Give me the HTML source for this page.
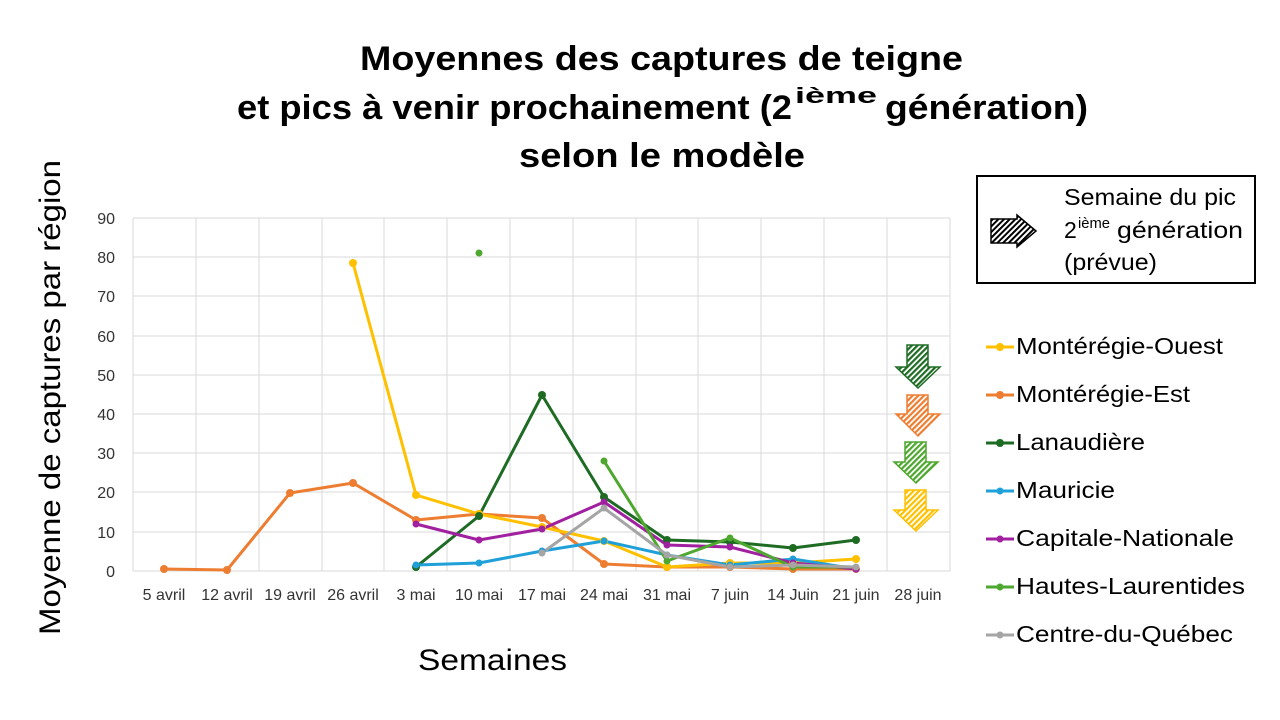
<!DOCTYPE html>
<html><head><meta charset="utf-8"><style>
html,body{margin:0;padding:0;background:#fff;}
svg{display:block;font-family:"Liberation Sans",sans-serif;}
</style></head><body>
<svg width="1280" height="720" viewBox="0 0 1280 720" xmlns="http://www.w3.org/2000/svg">
<defs>
<pattern id="hk" width="4" height="4" patternUnits="userSpaceOnUse" patternTransform="rotate(45)"><rect width="4" height="4" fill="#fff"/><rect width="2" height="4" fill="#000"/></pattern>
<pattern id="hdg" width="4" height="4" patternUnits="userSpaceOnUse" patternTransform="rotate(45)"><rect width="4" height="4" fill="#fff"/><rect width="2.2" height="4" fill="#1E6B24"/></pattern>
<pattern id="ho" width="4" height="4" patternUnits="userSpaceOnUse" patternTransform="rotate(45)"><rect width="4" height="4" fill="#fff"/><rect width="2.2" height="4" fill="#ED7D31"/></pattern>
<pattern id="hg" width="4" height="4" patternUnits="userSpaceOnUse" patternTransform="rotate(45)"><rect width="4" height="4" fill="#fff"/><rect width="2.2" height="4" fill="#4EA72E"/></pattern>
<pattern id="hy" width="4" height="4" patternUnits="userSpaceOnUse" patternTransform="rotate(45)"><rect width="4" height="4" fill="#fff"/><rect width="2.2" height="4" fill="#FFC000"/></pattern>
</defs>
<!-- title -->
<g font-weight="bold" font-size="34" fill="#000">
<text x="360" y="70" textLength="603" lengthAdjust="spacingAndGlyphs">Moyennes des captures de teigne</text>
<text x="237" y="119" textLength="555" lengthAdjust="spacingAndGlyphs">et pics à venir prochainement (2</text>
<text x="795" y="103" font-size="22" textLength="82" lengthAdjust="spacingAndGlyphs">ième</text>
<text x="885" y="119" textLength="203" lengthAdjust="spacingAndGlyphs">génération)</text>
<text x="519" y="167" textLength="286" lengthAdjust="spacingAndGlyphs">selon le modèle</text>
</g>
<!-- grid -->
<g stroke="#d9d9d9" stroke-width="1">
<line x1="133" y1="218" x2="950" y2="218"/><line x1="133" y1="257" x2="950" y2="257"/><line x1="133" y1="296" x2="950" y2="296"/><line x1="133" y1="336" x2="950" y2="336"/><line x1="133" y1="375" x2="950" y2="375"/><line x1="133" y1="414" x2="950" y2="414"/><line x1="133" y1="453" x2="950" y2="453"/><line x1="133" y1="492" x2="950" y2="492"/><line x1="133" y1="532" x2="950" y2="532"/><line x1="133" y1="571" x2="950" y2="571"/>
<line x1="133" y1="218" x2="133" y2="571"/><line x1="196" y1="218" x2="196" y2="571"/><line x1="259" y1="218" x2="259" y2="571"/><line x1="322" y1="218" x2="322" y2="571"/><line x1="384" y1="218" x2="384" y2="571"/><line x1="447" y1="218" x2="447" y2="571"/><line x1="510" y1="218" x2="510" y2="571"/><line x1="573" y1="218" x2="573" y2="571"/><line x1="636" y1="218" x2="636" y2="571"/><line x1="698" y1="218" x2="698" y2="571"/><line x1="761" y1="218" x2="761" y2="571"/><line x1="824" y1="218" x2="824" y2="571"/><line x1="887" y1="218" x2="887" y2="571"/><line x1="950" y1="218" x2="950" y2="571"/>
</g>
<g font-size="16" fill="#333" text-anchor="end">
<text x="115" y="224">90</text><text x="115" y="263">80</text><text x="115" y="302">70</text><text x="115" y="342">60</text><text x="115" y="381">50</text><text x="115" y="420">40</text><text x="115" y="459">30</text><text x="115" y="498">20</text><text x="115" y="538">10</text><text x="115" y="577">0</text>
</g>
<g font-size="16" fill="#333" text-anchor="middle">
<text x="164" y="600">5 avril</text><text x="227" y="600">12 avril</text><text x="290" y="600">19 avril</text><text x="353" y="600">26 avril</text><text x="416" y="600">3 mai</text><text x="479" y="600">10 mai</text><text x="542" y="600">17 mai</text><text x="604" y="600">24 mai</text><text x="667" y="600">31 mai</text><text x="730" y="600">7 juin</text><text x="793" y="600">14 Juin</text><text x="856" y="600">21 juin</text><text x="918" y="600">28 juin</text>
</g>
<text x="418" y="670" font-size="30" textLength="149" lengthAdjust="spacingAndGlyphs">Semaines</text>
<text transform="translate(60,635) rotate(-90)" font-size="30" textLength="475" lengthAdjust="spacingAndGlyphs">Moyenne de captures par région</text>
<!-- series -->
<g fill="none" stroke-width="3" stroke-linejoin="round">
<polyline stroke="#ED7D31" points="164,569 227,570 290,493 353,483 416,520 479,514 542,518 604,564 667,567 730,567 793,569 856,569"/>
<polyline stroke="#FFC000" points="353,263 416,495 479,514 542,527 604,541 667,567 730,563 793,563 856,559"/>
<polyline stroke="#1E6B24" points="416,567 479,516 542,395 604,497 667,540 730,542 793,548 856,540"/>
<polyline stroke="#1FA0D8" points="416,565 479,563 542,551 604,541 667,555 730,565 793,559 856,569"/>
<polyline stroke="#A020A0" points="416,524 479,540 542,529 604,502 667,545 730,547 793,563 856,569"/>
<polyline stroke="#4EA72E" points="604,461 667,561 730,538 793,567 856,567"/>
<polyline stroke="#A5A5A5" points="542,553 604,508 667,555 730,567 793,565 856,567"/>
</g>
<g fill="#ED7D31"><circle cx="164" cy="569" r="4"/><circle cx="227" cy="570" r="4"/><circle cx="290" cy="493" r="4"/><circle cx="353" cy="483" r="4"/><circle cx="416" cy="520" r="4"/><circle cx="479" cy="514" r="4"/><circle cx="542" cy="518" r="4"/><circle cx="604" cy="564" r="4"/><circle cx="667" cy="567" r="4"/><circle cx="730" cy="567" r="4"/><circle cx="793" cy="569" r="4"/><circle cx="856" cy="569" r="4"/></g>
<g fill="#FFC000"><circle cx="353" cy="263" r="4"/><circle cx="416" cy="495" r="4"/><circle cx="479" cy="514" r="4"/><circle cx="542" cy="527" r="4"/><circle cx="604" cy="541" r="4"/><circle cx="667" cy="567" r="4"/><circle cx="730" cy="563" r="4"/><circle cx="793" cy="563" r="4"/><circle cx="856" cy="559" r="4"/></g>
<g fill="#1E6B24"><circle cx="416" cy="567" r="4"/><circle cx="479" cy="516" r="4"/><circle cx="542" cy="395" r="4"/><circle cx="604" cy="497" r="4"/><circle cx="667" cy="540" r="4"/><circle cx="730" cy="542" r="4"/><circle cx="793" cy="548" r="4"/><circle cx="856" cy="540" r="4"/></g>
<g fill="#1FA0D8"><circle cx="416" cy="565" r="3.5"/><circle cx="479" cy="563" r="3.5"/><circle cx="542" cy="551" r="3.5"/><circle cx="604" cy="541" r="3.5"/><circle cx="667" cy="555" r="3.5"/><circle cx="730" cy="565" r="3.5"/><circle cx="793" cy="559" r="3.5"/><circle cx="856" cy="569" r="3.5"/></g>
<g fill="#A020A0"><circle cx="416" cy="524" r="3.5"/><circle cx="479" cy="540" r="3.5"/><circle cx="542" cy="529" r="3.5"/><circle cx="604" cy="502" r="3.5"/><circle cx="667" cy="545" r="3.5"/><circle cx="730" cy="547" r="3.5"/><circle cx="793" cy="563" r="3.5"/><circle cx="856" cy="569" r="3.5"/></g>
<g fill="#4EA72E"><circle cx="479" cy="253" r="3.5"/><circle cx="604" cy="461" r="3.5"/><circle cx="667" cy="561" r="3.5"/><circle cx="730" cy="538" r="3.5"/><circle cx="793" cy="567" r="3.5"/></g>
<g fill="#A5A5A5"><circle cx="542" cy="553" r="3.5"/><circle cx="604" cy="508" r="3.5"/><circle cx="667" cy="555" r="3.5"/><circle cx="730" cy="567" r="3.5"/><circle cx="793" cy="565" r="3.5"/><circle cx="856" cy="567" r="3.5"/></g>
<!-- down arrows -->
<path d="M907,345 H928 V367 H940 L918,388 L896,367 H907 Z" fill="url(#hdg)" stroke="#1E6B24" stroke-width="1.5"/>
<path d="M907,395 H928 V414 H940 L918,436 L896,414 H907 Z" fill="url(#ho)" stroke="#ED7D31" stroke-width="1.5"/>
<path d="M905,442 H926 V462 H938 L916,483 L894,462 H905 Z" fill="url(#hg)" stroke="#4EA72E" stroke-width="1.5"/>
<path d="M905,490 H926 V510 H938 L916,531 L894,510 H905 Z" fill="url(#hy)" stroke="#FFC000" stroke-width="1.5"/>
<!-- box legend -->
<rect x="977" y="176" width="278" height="107" fill="#fff" stroke="#000" stroke-width="2"/>
<path d="M991,219 H1017 V215 L1036,231 L1017,247 V243 H991 Z" fill="url(#hk)" stroke="#000" stroke-width="1.5"/>
<g font-size="23" fill="#000">
<text x="1064" y="205" textLength="172" lengthAdjust="spacingAndGlyphs">Semaine du pic</text>
<text x="1064" y="238">2</text>
<text x="1078" y="228" font-size="15" textLength="32" lengthAdjust="spacingAndGlyphs">ième</text>
<text x="1117" y="238" textLength="126" lengthAdjust="spacingAndGlyphs">génération</text>
<text x="1064" y="270" textLength="93" lengthAdjust="spacingAndGlyphs">(prévue)</text>
</g>
<!-- series legend -->
<g stroke-width="3">
<line x1="986" y1="347" x2="1014" y2="347" stroke="#FFC000"/><line x1="986" y1="395" x2="1014" y2="395" stroke="#ED7D31"/><line x1="986" y1="443" x2="1014" y2="443" stroke="#1E6B24"/><line x1="986" y1="491" x2="1014" y2="491" stroke="#1FA0D8"/><line x1="986" y1="539" x2="1014" y2="539" stroke="#A020A0"/><line x1="986" y1="587" x2="1014" y2="587" stroke="#4EA72E"/><line x1="986" y1="635" x2="1014" y2="635" stroke="#A5A5A5"/>
</g>
<circle cx="1000" cy="347" r="4" fill="#FFC000"/><circle cx="1000" cy="395" r="4" fill="#ED7D31"/><circle cx="1000" cy="443" r="4" fill="#1E6B24"/><circle cx="1000" cy="491" r="3.5" fill="#1FA0D8"/><circle cx="1000" cy="539" r="3.5" fill="#A020A0"/><circle cx="1000" cy="587" r="3.5" fill="#4EA72E"/><circle cx="1000" cy="635" r="3.5" fill="#A5A5A5"/>
<g font-size="23" fill="#000">
<text x="1016" y="354" textLength="207" lengthAdjust="spacingAndGlyphs">Montérégie-Ouest</text>
<text x="1016" y="402" textLength="174" lengthAdjust="spacingAndGlyphs">Montérégie-Est</text>
<text x="1016" y="450" textLength="129" lengthAdjust="spacingAndGlyphs">Lanaudière</text>
<text x="1016" y="498" textLength="99" lengthAdjust="spacingAndGlyphs">Mauricie</text>
<text x="1016" y="546" textLength="218" lengthAdjust="spacingAndGlyphs">Capitale-Nationale</text>
<text x="1016" y="594" textLength="229" lengthAdjust="spacingAndGlyphs">Hautes-Laurentides</text>
<text x="1016" y="642" textLength="217" lengthAdjust="spacingAndGlyphs">Centre-du-Québec</text>
</g>
</svg>
</body></html>
